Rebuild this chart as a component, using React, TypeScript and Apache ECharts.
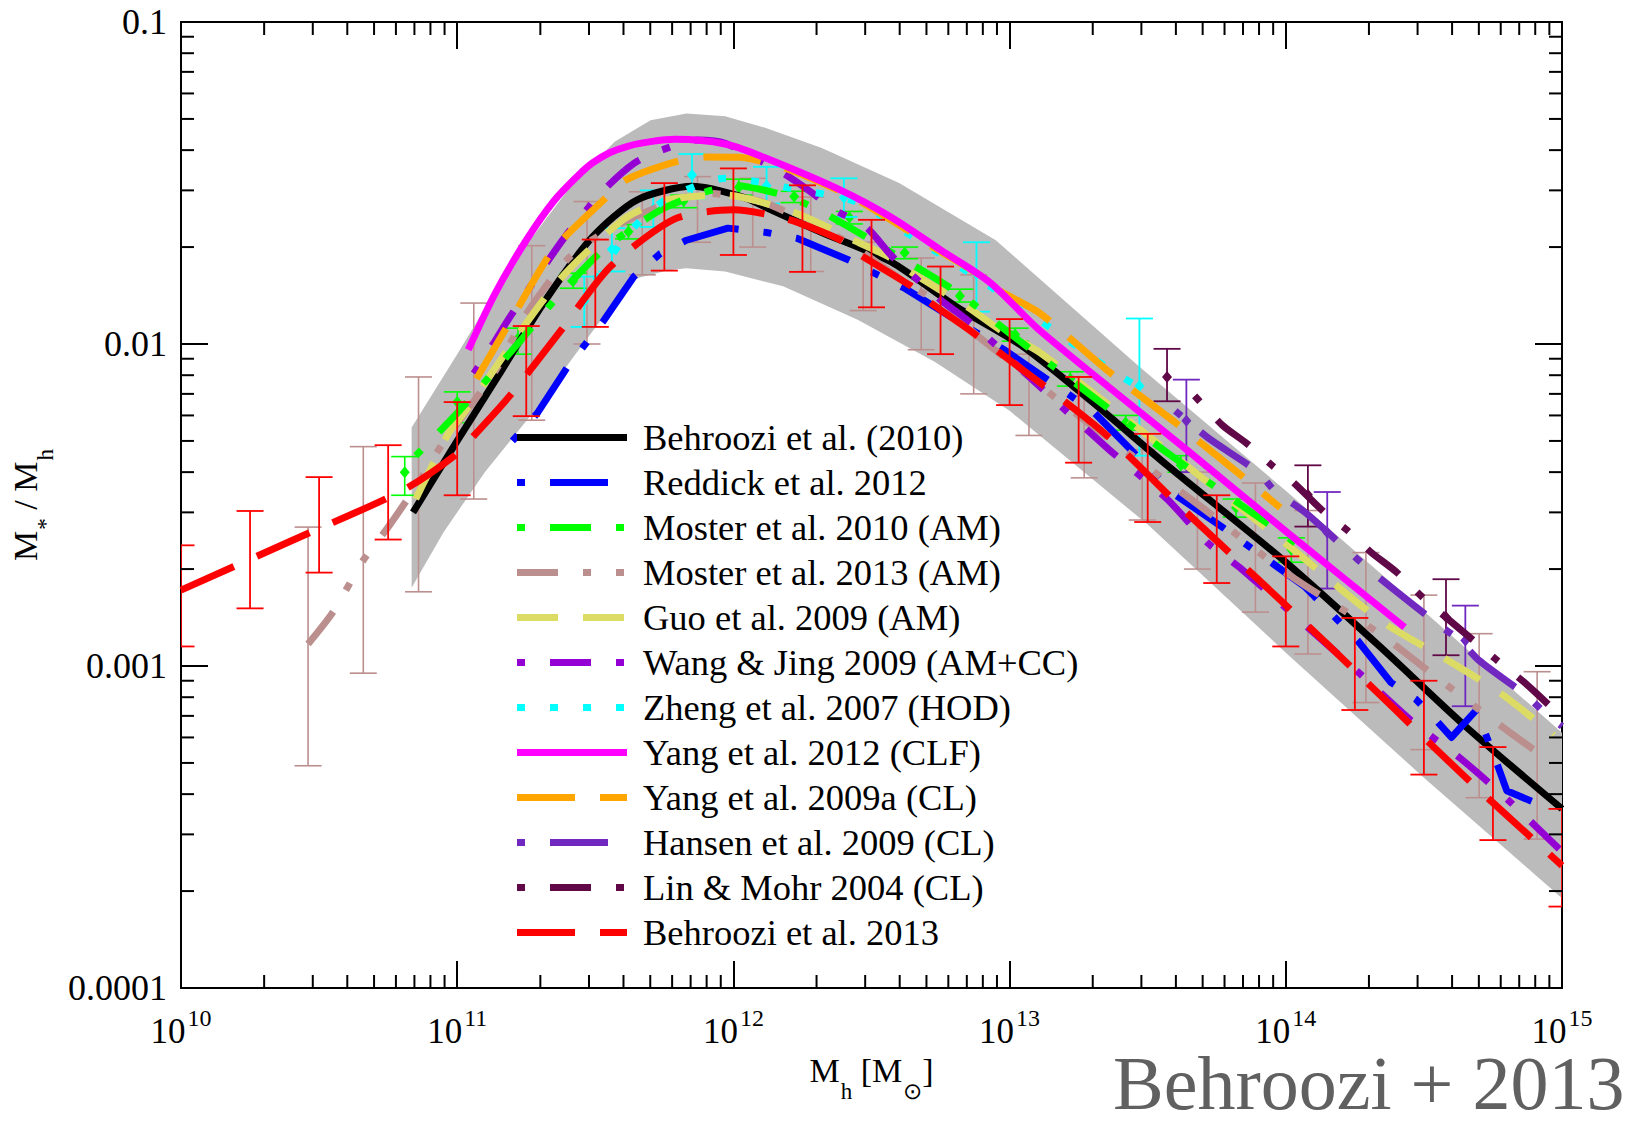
import React, { useEffect, useRef } from "react";
import * as echarts from "echarts";

const FONT = '"Liberation Serif", "Times New Roman", serif';

// ---------- axis ticks ----------
const xTickExponents = [10, 11, 12, 13, 14, 15];
const yTickLabels = ["0.0001", "0.001", "0.01", "0.1"];

// ---------- shaded uncertainty band ----------
const bandUpperLogM = [10.835, 11.0, 11.2, 11.4, 11.57, 11.7, 11.83, 11.97, 12.12, 12.32, 12.6, 12.95, 13.47, 14.0, 14.5, 15.0];
const bandUpper = [0.0055, 0.0093, 0.0178, 0.03, 0.0425, 0.0495, 0.052, 0.051, 0.0468, 0.0406, 0.0316, 0.021, 0.0085, 0.0035, 0.00148, 0.00062];
const bandLowerLogM = [10.835, 10.95, 11.1, 11.28, 11.42, 11.555, 11.65, 11.76, 11.83, 11.97, 12.18, 12.45, 12.73, 13.0, 13.5, 14.0, 14.5, 15.0];
const bandLower = [0.00175, 0.0026, 0.004, 0.0062, 0.0091, 0.013, 0.016, 0.0169, 0.0172, 0.0168, 0.0151, 0.0119, 0.0088, 0.0062, 0.00275, 0.0011, 0.00045, 0.00019];

// ---------- curves ----------
const behroozi10LogM = [10.84, 11.0, 11.15, 11.32, 11.49, 11.65, 11.85, 12.04, 12.14, 12.32, 12.57, 12.81, 13.05, 13.3, 13.57, 14.0, 14.34, 14.65, 15.0];
const behroozi10Ratio = [0.003, 0.005, 0.008, 0.0137, 0.0215, 0.028, 0.0309, 0.0285, 0.026, 0.0222, 0.018, 0.013, 0.0098, 0.0066, 0.0042, 0.0021, 0.00115, 0.00065, 0.00036];

const reddickLogM = [11.2, 11.29, 11.4, 11.53, 11.64, 11.735, 11.83, 11.98, 12.12, 12.23, 12.42, 12.51, 12.62, 12.75, 12.98, 13.3, 13.6, 13.77, 14.07, 14.26, 14.38, 14.47, 14.55, 14.6, 14.69, 14.76, 14.8, 14.89];
const reddickRatio = [0.005, 0.0061, 0.0085, 0.0118, 0.0162, 0.0191, 0.021, 0.0229, 0.0222, 0.0213, 0.0182, 0.0166, 0.0149, 0.0127, 0.0096, 0.0062, 0.0034, 0.0027, 0.00176, 0.0012, 0.00089, 0.00079, 0.00067, 0.0006, 0.00073, 0.00051, 0.00041, 0.00038];

const moster10LogM = [10.85, 11.0, 11.21, 11.375, 11.54, 11.76, 12.01, 12.18, 12.3, 12.5, 12.6, 12.71, 12.84, 13.0, 13.2, 13.57, 13.98, 14.07];
const moster10Ratio = [0.0045, 0.0061, 0.0098, 0.0144, 0.02, 0.0267, 0.031, 0.029, 0.0263, 0.021, 0.0186, 0.0164, 0.0139, 0.0108, 0.008, 0.0046, 0.0026, 0.0023];

const moster13LogM = [10.46, 10.55, 10.66, 10.75, 10.85, 10.94, 11.14, 11.25, 11.42, 11.62, 11.9, 12.1, 12.2, 12.4, 12.65, 12.75, 12.89, 13.26, 13.72, 14.0, 14.34, 14.52, 14.72, 14.91];
const moster13Ratio = [0.00117, 0.00147, 0.00213, 0.0027, 0.0036, 0.0048, 0.0083, 0.0124, 0.0191, 0.0243, 0.0294, 0.0277, 0.0255, 0.021, 0.015, 0.0134, 0.0105, 0.0059, 0.003, 0.00195, 0.00126, 0.00096, 0.00071, 0.00054];

const guoLogM = [10.85, 10.91, 10.97, 11.03, 11.35, 11.6, 11.76, 11.97, 12.2, 12.34, 12.42, 12.56, 12.64, 12.76, 12.85, 12.97, 13.11, 13.5, 14.0, 14.34, 14.58, 14.78, 14.97];
const guoRatio = [0.0033, 0.0042, 0.0053, 0.0062, 0.0151, 0.0243, 0.028, 0.029, 0.026, 0.0231, 0.0213, 0.0187, 0.0168, 0.0145, 0.013, 0.011, 0.0094, 0.0052, 0.0024, 0.00139, 0.00105, 0.00082, 0.00061];

const wangLogM = [11.06, 11.13, 11.19, 11.39, 11.53, 11.64, 11.74, 11.87, 11.97, 12.18, 12.28, 12.37, 12.48, 12.57, 12.64, 12.75, 12.84, 12.93, 13.1, 13.36, 13.57, 13.72, 13.84, 14.26, 14.46, 14.64, 14.81, 14.99];
const wangRatio = [0.0081, 0.01, 0.0121, 0.0215, 0.03, 0.0364, 0.04, 0.043, 0.042, 0.0339, 0.0297, 0.026, 0.0231, 0.0189, 0.0166, 0.0137, 0.012, 0.0103, 0.0075, 0.0047, 0.0033, 0.0024, 0.002, 0.00096, 0.00067, 0.00051, 0.00038, 0.00027];

const zhengLogM = [11.5, 11.59, 11.67, 11.77, 11.97, 12.09, 12.21, 12.44, 12.65, 12.95, 13.15, 13.34, 13.45];
const zhengRatio = [0.0157, 0.0205, 0.0245, 0.0286, 0.0327, 0.0319, 0.0304, 0.0277, 0.0215, 0.0147, 0.0112, 0.0086, 0.0075];

const yang12LogM = [11.04, 11.14, 11.25, 11.35, 11.44, 11.49, 11.55, 11.62, 11.7, 11.79, 11.97, 12.11, 12.39, 12.57, 12.75, 12.93, 13.11, 13.64, 14.0, 14.43];
const yang12Ratio = [0.0096, 0.0145, 0.021, 0.0278, 0.0335, 0.0365, 0.0392, 0.0412, 0.0425, 0.0432, 0.0418, 0.038, 0.03, 0.0248, 0.0196, 0.0155, 0.011, 0.0047, 0.00262, 0.00132];

const yang09LogM = [11.07, 11.18, 11.33, 11.39, 11.53, 11.61, 11.79, 11.9, 12.02, 12.19, 12.38, 12.46, 12.64, 12.71, 12.89, 12.96, 13.11, 13.36, 13.6, 13.84, 13.98];
const yang09Ratio = [0.0078, 0.0113, 0.0187, 0.0215, 0.028, 0.0323, 0.0368, 0.0381, 0.038, 0.0351, 0.03, 0.0277, 0.0223, 0.0203, 0.0164, 0.0147, 0.01245, 0.0082, 0.0057, 0.0039, 0.0031];

const hansenLogM = [13.6, 13.72, 13.9, 13.96, 14.07, 14.22, 14.3, 14.38, 14.54, 14.63, 14.7, 14.87, 14.95, 15.0];
const hansenRatio = [0.0062, 0.0051, 0.004, 0.0035, 0.003, 0.0023, 0.002, 0.00176, 0.00137, 0.0012, 0.00104, 0.00081, 0.0007, 0.00065];

const linMohrLogM = [13.67, 13.77, 13.86, 13.95, 14.03, 14.14, 14.22, 14.31, 14.4, 14.5, 14.67, 14.76, 14.87, 14.95];
const linMohrRatio = [0.0069, 0.0056, 0.0049, 0.0042, 0.0037, 0.003, 0.00265, 0.00225, 0.00196, 0.00162, 0.00122, 0.00105, 0.00088, 0.00076];

const behroozi13LogM = [10.0, 10.4, 10.8, 10.99, 11.07, 11.19, 11.375, 11.555, 11.79, 12.0, 12.19, 12.39, 12.46, 12.64, 12.71, 12.87, 13.33, 13.64, 14.15, 14.64, 15.0];
const behroozi13Ratio = [0.00172, 0.00245, 0.0035, 0.0045, 0.0053, 0.0069, 0.011, 0.0174, 0.0245, 0.0261, 0.0245, 0.021, 0.0189, 0.0152, 0.0135, 0.0108, 0.0054, 0.003, 0.00117, 0.00046, 0.00024];

// ---------- error bars ----------
const b13BarLogM = [10.0, 10.25, 10.5, 10.75, 11.0, 11.25, 11.5, 11.75, 12.0, 12.25, 12.5, 12.75, 13.0, 13.25, 13.5, 13.75, 14.0, 14.25, 14.5, 14.75, 15.0];
const b13BarHi = [0.00237, 0.00303, 0.00386, 0.00485, 0.0066, 0.01137, 0.0211, 0.0316, 0.0351, 0.0311, 0.0243, 0.0174, 0.01195, 0.0079, 0.00526, 0.00339, 0.00219, 0.00141, 0.0009, 0.00056, 0.00036];
const b13BarLo = [0.00115, 0.00151, 0.00195, 0.00247, 0.00339, 0.00597, 0.0113, 0.0169, 0.0189, 0.01675, 0.013, 0.0093, 0.00646, 0.00428, 0.0028, 0.00181, 0.00115, 0.00073, 0.00046, 0.000288, 0.000179];

const m13BarLogM = [10.46, 10.66, 10.86, 11.06, 11.27, 11.47, 11.67, 11.87, 12.07, 12.28, 12.47, 12.68, 12.87, 13.07, 13.27, 13.48, 13.68, 13.89, 14.08, 14.29, 14.5, 14.7, 14.91];
const m13BarHi = [0.0027, 0.0048, 0.0079, 0.0134, 0.0202, 0.0277, 0.0297, 0.0331, 0.0327, 0.0286, 0.0207, 0.0185, 0.0164, 0.0093, 0.0069, 0.0047, 0.004, 0.0037, 0.00304, 0.00225, 0.00166, 0.00126, 0.00096];
const m13BarLo = [0.00049, 0.00095, 0.0017, 0.0033, 0.0058, 0.01, 0.0164, 0.0207, 0.02, 0.0168, 0.0127, 0.0096, 0.007, 0.0052, 0.00384, 0.00284, 0.002, 0.00147, 0.00109, 0.00077, 0.00055, 0.00039, 0.00029];

const m10BarLogM = [10.81, 11.0, 11.22, 11.42, 11.62, 11.82, 12.02, 12.22, 12.42, 12.62, 12.82, 13.02, 13.22, 13.42, 13.62, 13.82, 14.02];
const m10BarHi = [0.00447, 0.0071, 0.0112, 0.0166, 0.0235, 0.029, 0.0325, 0.0298, 0.0258, 0.02, 0.0148, 0.0112, 0.0082, 0.006, 0.0045, 0.0033, 0.0025];
const m10BarLo = [0.00339, 0.0057, 0.0093, 0.0149, 0.0212, 0.0265, 0.029, 0.0275, 0.0236, 0.0184, 0.0135, 0.0102, 0.0074, 0.0054, 0.004, 0.0029, 0.0021];
const m10BarMid = [0.004, 0.0066, 0.0104, 0.0157, 0.0223, 0.0278, 0.0307, 0.0287, 0.0247, 0.0192, 0.0141, 0.0107, 0.0078, 0.0057, 0.0042, 0.0031, 0.0023];

const zhengBarLogM = [11.46, 11.56, 11.71, 11.85, 12.12, 12.4, 12.88, 13.47];
const zhengBarHi = [0.0162, 0.0229, 0.03, 0.0389, 0.0355, 0.0327, 0.0207, 0.012];
const zhengBarLo = [0.0113, 0.0168, 0.0231, 0.0283, 0.0273, 0.0248, 0.0126, 0.0045];
const zhengBarMid = [0.0136, 0.0197, 0.0262, 0.0335, 0.031, 0.0285, 0.0165, 0.0074];

const linMohrBarLogM = [13.57, 14.08, 14.58];
const linMohrBarHi = [0.00966, 0.0042, 0.00186];
const linMohrBarLo = [0.00664, 0.00271, 0.00108];
const linMohrBarMid = [0.0079, 0.0034, 0.00142];

const hansenBarLogM = [13.64, 14.15, 14.65];
const hansenBarHi = [0.00775, 0.00347, 0.00154];
const hansenBarLo = [0.004, 0.00174, 0.00075];
const hansenBarMid = [0.00578, 0.0026, 0.0012];

// ---------- series styling ----------
type Curve = {
  name: string;
  color: string;
  dash: number[] | "solid";
  logM: number[];
  ratio: number[];
  z: number;
  smooth: number;
};

const curves: Curve[] = [
  { name: "Behroozi et al. (2010)", color: "#000000", dash: "solid", logM: behroozi10LogM, ratio: behroozi10Ratio, z: 4, smooth: 0.25 },
  { name: "Reddick et al. 2012", color: "#0000ff", dash: [8, 25, 58, 25], logM: reddickLogM, ratio: reddickRatio, z: 5, smooth: 0 },
  { name: "Moster et al. 2010 (AM)", color: "#00ff00", dash: [8, 25, 41, 25], logM: moster10LogM, ratio: moster10Ratio, z: 6, smooth: 0.25 },
  { name: "Moster et al. 2013 (AM)", color: "#bc8f8f", dash: [41, 25, 8, 25, 8, 25], logM: moster13LogM, ratio: moster13Ratio, z: 5, smooth: 0.25 },
  { name: "Guo et al. 2009 (AM)", color: "#dcdc64", dash: [41, 25], logM: guoLogM, ratio: guoRatio, z: 5, smooth: 0.25 },
  { name: "Wang & Jing 2009 (AM+CC)", color: "#9400d3", dash: [8, 25, 41, 25], logM: wangLogM, ratio: wangRatio, z: 6, smooth: 0.25 },
  { name: "Zheng et al. 2007 (HOD)", color: "#00ffff", dash: [8, 25], logM: zhengLogM, ratio: zhengRatio, z: 6, smooth: 0.25 },
  { name: "Yang et al. 2012 (CLF)", color: "#ff00ff", dash: "solid", logM: yang12LogM, ratio: yang12Ratio, z: 7, smooth: 0.3 },
  { name: "Yang et al. 2009a (CL)", color: "#ffa500", dash: [58, 25], logM: yang09LogM, ratio: yang09Ratio, z: 6, smooth: 0.25 },
  { name: "Hansen et al. 2009 (CL)", color: "#7028c0", dash: [8, 25, 58, 25], logM: hansenLogM, ratio: hansenRatio, z: 6, smooth: 0.25 },
  { name: "Lin & Mohr 2004 (CL)", color: "#600848", dash: [8, 25, 41, 25], logM: linMohrLogM, ratio: linMohrRatio, z: 6, smooth: 0.25 },
  { name: "Behroozi et al. 2013", color: "#ff0000", dash: [58, 25], logM: behroozi13LogM, ratio: behroozi13Ratio, z: 8, smooth: 0.25 },
];

const CAP = 13.5;
const LEGEND_X1 = 517;
const LEGEND_X2 = 627;
const LEGEND_TEXT_X = 643;
const LEGEND_ROW0 = 437.5;
const LEGEND_STEP = 45;

const pow10 = (m: number) => Math.pow(10, m);

function errorBars(
  name: string,
  color: string,
  logM: number[],
  hi: number[],
  lo: number[],
  mid: number[] | null,
  z: number,
  lw: number
) {
  return {
    type: "custom",
    name,
    z,
    clip: true,
    silent: true,
    data: logM.map((m, i) => [pow10(m), lo[i], hi[i], mid ? mid[i] : lo[i]]),
    encode: { x: 0, y: [1, 2] },
    renderItem: (_params: any, api: any) => {
      const xv = api.value(0);
      const a = api.coord([xv, api.value(1)]);
      const b = api.coord([xv, api.value(2)]);
      const st = { stroke: color, lineWidth: lw };
      const children: any[] = [
        { type: "line", shape: { x1: a[0], y1: a[1], x2: b[0], y2: b[1] }, style: st },
        { type: "line", shape: { x1: a[0] - CAP, y1: a[1], x2: a[0] + CAP, y2: a[1] }, style: st },
        { type: "line", shape: { x1: b[0] - CAP, y1: b[1], x2: b[0] + CAP, y2: b[1] }, style: st },
      ];
      if (mid) {
        const c = api.coord([xv, api.value(3)]);
        children.push({
          type: "polygon",
          shape: { points: [[c[0], c[1] - 6], [c[0] + 5, c[1]], [c[0], c[1] + 6], [c[0] - 5, c[1]]] },
          style: { fill: color },
        });
      }
      return { type: "group", children };
    },
  };
}

function buildOption(): any {
  const xMinor: number[][] = [];
  for (let d = 10; d < 15; d++) for (let k = 2; k <= 9; k++) xMinor.push([k * pow10(d), 1e-3]);
  const yMinor: number[][] = [];
  for (let d = -4; d < -1; d++) for (let k = 2; k <= 9; k++) yMinor.push([1e12, k * pow10(d)]);

  const tickLine = { color: "#000", width: 2 };
  const nameRich = {
    m: { fontSize: 34, fontFamily: FONT, color: "#000", lineHeight: 40, verticalAlign: "top" },
    s: { fontSize: 23, fontFamily: FONT, color: "#000", lineHeight: 22, padding: [26, 0, 0, 1], verticalAlign: "top" },
  };

  const series: any[] = [];

  // band
  series.push({
    type: "custom",
    z: 1,
    silent: true,
    clip: true,
    data: [[1e12, 0.01]],
    renderItem: (_p: any, api: any) => {
      const up = bandUpperLogM.map((m, i) => api.coord([pow10(m), bandUpper[i]]));
      const lo = bandLowerLogM.map((m, i) => api.coord([pow10(m), bandLower[i]])).reverse();
      return { type: "polygon", shape: { points: up.concat(lo) }, style: { fill: "#bbbbbb" } };
    },
  });

  // error bars beneath the curves
  series.push(errorBars("Moster 2013 bars", "#bc8f8f", m13BarLogM, m13BarHi, m13BarLo, null, 2, 1.6));
  series.push(errorBars("Moster 2010 bars", "#00ff00", m10BarLogM, m10BarHi, m10BarLo, m10BarMid, 3, 1.6));
  series.push(errorBars("Zheng bars", "#00ffff", zhengBarLogM, zhengBarHi, zhengBarLo, zhengBarMid, 3, 1.8));
  series.push(errorBars("Lin & Mohr bars", "#600848", linMohrBarLogM, linMohrBarHi, linMohrBarLo, linMohrBarMid, 3, 1.8));
  series.push(errorBars("Hansen bars", "#7028c0", hansenBarLogM, hansenBarHi, hansenBarLo, hansenBarMid, 3, 1.8));

  curves.forEach((c) => {
    series.push({
      type: "line",
      name: c.name,
      z: c.z,
      silent: true,
      symbol: "none",
      showSymbol: false,
      smooth: c.smooth,
      clip: true,
      data: c.logM.map((m, i) => [pow10(m), c.ratio[i]]),
      lineStyle: { color: c.color, width: 7, type: c.dash, cap: "butt", join: "round" },
    });
  });

  series.push(errorBars("Behroozi 2013 bars", "#ff0000", b13BarLogM, b13BarHi, b13BarLo, null, 9, 1.8));

  // minor ticks (all four sides)
  series.push({
    type: "custom",
    z: 10,
    silent: true,
    data: xMinor,
    renderItem: (params: any, api: any) => {
      const p = api.coord([api.value(0), api.value(1)]);
      const cs = params.coordSys;
      const st = { stroke: "#000", lineWidth: 2 };
      return {
        type: "group",
        children: [
          { type: "line", shape: { x1: p[0], y1: cs.y + cs.height, x2: p[0], y2: cs.y + cs.height - 13 }, style: st },
          { type: "line", shape: { x1: p[0], y1: cs.y, x2: p[0], y2: cs.y + 13 }, style: st },
        ],
      };
    },
  });
  series.push({
    type: "custom",
    z: 10,
    silent: true,
    data: yMinor,
    renderItem: (params: any, api: any) => {
      const p = api.coord([api.value(0), api.value(1)]);
      const cs = params.coordSys;
      const st = { stroke: "#000", lineWidth: 2 };
      return {
        type: "group",
        children: [
          { type: "line", shape: { x1: cs.x, y1: p[1], x2: cs.x + 13, y2: p[1] }, style: st },
          { type: "line", shape: { x1: cs.x + cs.width, y1: p[1], x2: cs.x + cs.width - 13, y2: p[1] }, style: st },
        ],
      };
    },
  });

  // legend (drawn as graphics)
  const graphic: any[] = [];
  curves.forEach((c, i) => {
    const y = LEGEND_ROW0 + i * LEGEND_STEP;
    graphic.push({
      type: "line",
      z: 50,
      silent: true,
      shape: { x1: LEGEND_X1, y1: y, x2: LEGEND_X2, y2: y },
      style: { stroke: c.color, lineWidth: 7, lineDash: c.dash === "solid" ? null : c.dash, lineCap: "butt" },
    });
    graphic.push({
      type: "text",
      z: 50,
      silent: true,
      x: LEGEND_TEXT_X,
      y,
      style: {
        text: c.name,
        fill: "#000",
        font: `36.5px ${FONT}`,
        verticalAlign: "middle",
        textVerticalAlign: "middle",
      },
    });
  });
  graphic.push({
    type: "text",
    z: 50,
    silent: true,
    x: 1113,
    y: 1083,
    style: {
      text: "Behroozi + 2013",
      fill: "#606060",
      font: `76px ${FONT}`,
      lineHeight: 58,
      verticalAlign: "middle",
      textVerticalAlign: "middle",
    },
  });

  return {
    animation: false,
    backgroundColor: "#ffffff",
    grid: { left: 181, top: 22, width: 1381, height: 966, containLabel: false },
    xAxis: [
      {
        type: "log",
        logBase: 10,
        min: 1e10,
        max: 1e15,
        position: "bottom",
        axisLine: { show: true, onZero: false, lineStyle: tickLine },
        axisTick: { show: true, inside: true, length: 27, lineStyle: tickLine },
        splitLine: { show: false },
        axisLabel: {
          margin: 18,
          color: "#000",
          formatter: (v: number) => {
            const e = Math.round(Math.log10(v));
            return xTickExponents.includes(e) ? `{b|10}{s|${e}}` : "";
          },
          rich: {
            b: { fontSize: 35, fontFamily: FONT, color: "#000", lineHeight: 36, padding: [8, 0, 0, 0], verticalAlign: "top" },
            s: { fontSize: 24, fontFamily: FONT, color: "#000", lineHeight: 14, padding: [0, 0, 0, 2], verticalAlign: "top" },
          },
        },
        name: "{m|M}{s|h}{m| [M}{s|⊙}{m|]}",
        nameLocation: "middle",
        nameGap: 62,
        nameTextStyle: { color: "#000", rich: nameRich },
      },
      {
        type: "log",
        logBase: 10,
        min: 1e10,
        max: 1e15,
        position: "top",
        axisLine: { show: true, onZero: false, lineStyle: tickLine },
        axisTick: { show: true, inside: true, length: 27, lineStyle: tickLine },
        splitLine: { show: false },
        axisLabel: { show: false },
      },
    ],
    yAxis: [
      {
        type: "log",
        logBase: 10,
        min: 1e-4,
        max: 1e-1,
        position: "left",
        axisLine: { show: true, onZero: false, lineStyle: tickLine },
        axisTick: { show: true, inside: true, length: 27, lineStyle: tickLine },
        splitLine: { show: false },
        axisLabel: {
          margin: 14,
          color: "#000",
          fontSize: 36,
          fontFamily: FONT,
          formatter: (v: number) => yTickLabels[Math.round(Math.log10(v)) + 4] ?? "",
        },
        name: "{m|M}{s|*}{m| / M}{s|h}",
        nameLocation: "middle",
        nameRotate: 90,
        nameGap: 116,
        nameTextStyle: { color: "#000", rich: nameRich },
      },
      {
        type: "log",
        logBase: 10,
        min: 1e-4,
        max: 1e-1,
        position: "right",
        axisLine: { show: true, onZero: false, lineStyle: tickLine },
        axisTick: { show: true, inside: true, length: 27, lineStyle: tickLine },
        splitLine: { show: false },
        axisLabel: { show: false },
      },
    ],
    graphic,
    series,
  };
}

export default function App() {
  const ref = useRef<HTMLDivElement>(null);
  useEffect(() => {
    document.body.style.margin = "0";
    const chart = echarts.init(ref.current!, undefined, { renderer: "svg" });
    chart.setOption(buildOption());
    return () => chart.dispose();
  }, []);
  return <div ref={ref} style={{ width: 1646, height: 1124, background: "#ffffff" }} />;
}
